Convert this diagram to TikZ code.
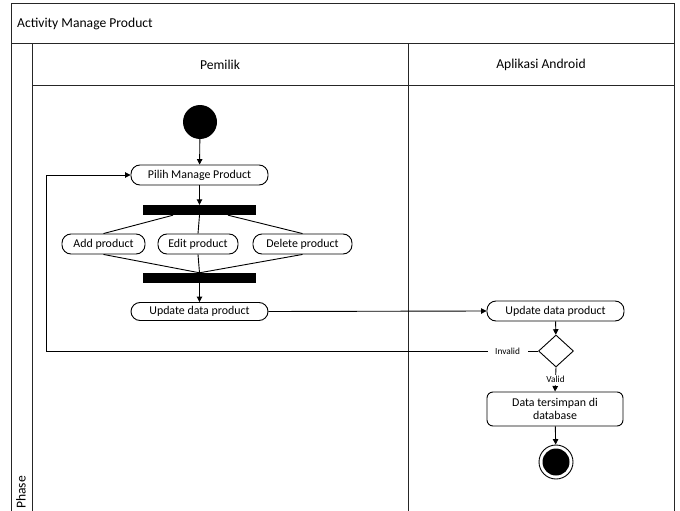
\documentclass[tikz,border=0pt]{standalone}
\usepackage{fontspec}
\setmainfont{Carlito}
\usetikzlibrary{shapes.geometric,arrows.meta}
\begin{document}
\begin{tikzpicture}[x=1pt,y=-1pt,
  frame/.style={draw=black!85, line width=1pt},
  act/.style={draw, line width=0.9pt, rounded corners=9pt, minimum height=20pt, inner sep=0pt, font=\fontsize{11.9}{13.5}\selectfont},
  bar/.style={fill=black, minimum width=113pt, minimum height=10pt, inner sep=0pt},
  flow/.style={line width=0.9pt, -{Triangle[length=5.5pt,width=5.5pt]}},
  plain/.style={line width=0.9pt},
  lbl/.style={fill=white, font=\fontsize{9.3}{10}\selectfont, inner sep=0pt, minimum width=40pt, minimum height=10pt},
  hdr/.style={font=\fontsize{13.6}{15}\selectfont}]
\useasboundingbox (0,0) rectangle (680,511);
\begin{scope}
\clip (0,0) rectangle (680,511);
% frame
\draw[frame] (11,4) rectangle (674,530);
\draw[frame] (11,44) -- (674,44);
\draw[frame] (32,44) -- (32,530);
\draw[frame] (32,85) -- (674,85);
\draw[frame] (408,44) -- (408,530);
\end{scope}
\node[hdr, anchor=west, inner sep=0pt] (title) at (17,24) {Activity Manage Product};
\node[hdr] (lane1) at (220,65) {Pemilik};
\node[hdr] (lane2) at (541,65) {Aplikasi Android};
\node[hdr, rotate=90, anchor=west, inner sep=0pt] (phase) at (21,509) {Phase};
% nodes
\node[circle, fill=black, minimum size=34pt, inner sep=0pt] (start) at (200,122) {};
\node[act, minimum width=137pt] (pilih) at (199.5,175) {Pilih Manage Product};
\node[bar] (fork) at (199.5,210) {};
\node[act, minimum width=83pt] (add) at (103.5,244) {Add product};
\node[act, minimum width=80pt] (edit) at (198,244) {Edit product};
\node[act, minimum width=99pt] (del) at (302.5,244) {Delete product};
\node[bar] (join) at (199.5,278) {};
\node[act, minimum width=137pt, minimum height=18pt] (updl) at (199.5,311.5) {Update data product};
\node[act, minimum width=137pt] (updr) at (555.5,311) {Update data product};
\node[diamond, draw, line width=0.9pt, minimum width=35pt, minimum height=32pt, inner sep=0pt] (dec) at (556,351) {};
\node[act, rounded corners=6pt, minimum width=136pt, minimum height=34pt, align=center] (data) at (555,409) {Data tersimpan di\\database};
\node[circle, draw, line width=0.9pt, minimum size=34pt, inner sep=0pt] (end) at (556,462) {};
\node[circle, fill=black, minimum size=27pt, inner sep=0pt] (endin) at (556,462) {};
\coordinate (lb) at (46,351);
\coordinate (lt) at (46,175);
% edges
\draw[flow] (start) -- (pilih);
\draw[flow] (pilih) -- (fork);
\draw[plain] ([xshift=-26.5pt]fork.south) -- (add.north);
\draw[plain] (fork.south) -- (edit.north);
\draw[plain] ([xshift=28.5pt]fork.south) -- (del.north);
\draw[plain] (add.south) -- (join.north);
\draw[plain] (edit.south) -- (join.north);
\draw[plain] (del.south) -- (join.north);
\draw[flow] (join) -- (updl);
\draw[flow] (updl.east) -- (updr.west);
\draw[flow] (updr) -- (dec);
\draw[flow] (dec.west) -- node[lbl, pos=0.062] {Invalid} (lb) -- (lt) -- (pilih.west);
\draw[flow] (dec.south) -- node[lbl, pos=0.5, minimum width=0pt, inner xsep=1pt] {Valid} (data.north);
\draw[flow] (data) -- (end);
\end{tikzpicture}
\end{document}
